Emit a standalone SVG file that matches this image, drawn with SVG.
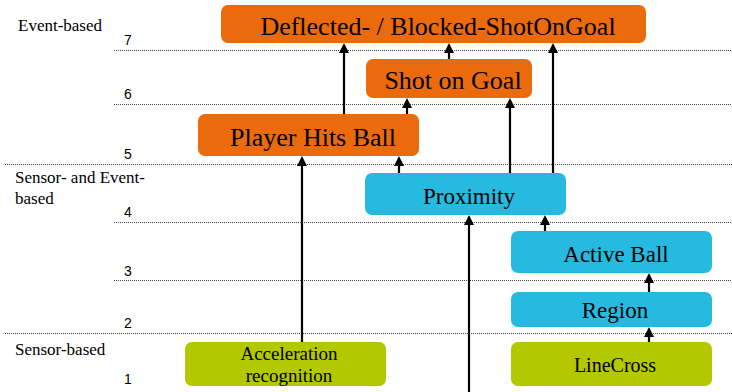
<svg xmlns="http://www.w3.org/2000/svg" width="732" height="392" viewBox="0 0 732 392">
<style>
.grid{stroke:#444;stroke-width:1;stroke-dasharray:1,1;fill:none}
.num{font-family:"Liberation Sans",Arial,sans-serif;font-size:14px;fill:#000}
.cat{font-family:"Liberation Serif","Times New Roman",serif;font-size:17px;fill:#000}
.lbl{font-family:"Liberation Serif","Times New Roman",serif;fill:#000;text-anchor:middle}
.ev{fill:#EB6B0C}
.se{fill:#27BAE1}
.s{fill:#B4C800}
.conn line{stroke:#000;stroke-width:2.2;marker-end:url(#ah)}
</style>
<defs>
<marker id="ah" viewBox="0 0 10 10" markerUnits="userSpaceOnUse" markerWidth="10" markerHeight="10" refX="6" refY="5" orient="auto">
<path d="M0,0 L10,5 L0,10 z" fill="#000"/>
</marker>
</defs>
<rect width="732" height="392" fill="#fff"/>
<g id="grid">
<line class="grid" x1="114" y1="50.5" x2="732" y2="50.5"/>
<line class="grid" x1="114" y1="104.5" x2="732" y2="104.5"/>
<line class="grid" x1="5" y1="164.5" x2="732" y2="164.5"/>
<line class="grid" x1="114" y1="222.5" x2="732" y2="222.5"/>
<line class="grid" x1="114" y1="280.5" x2="732" y2="280.5"/>
<line class="grid" x1="5" y1="333.5" x2="732" y2="333.5"/>
</g>
<g id="levels">
<text class="num" x="124" y="45">7</text>
<text class="num" x="124" y="99">6</text>
<text class="num" x="124" y="159">5</text>
<text class="num" x="124" y="217">4</text>
<text class="num" x="124" y="276">3</text>
<text class="num" x="124" y="328">2</text>
<text class="num" x="124" y="384">1</text>
</g>
<g id="categories">
<text class="cat" x="18" y="31">Event-based</text>
<text class="cat" x="15" y="183">Sensor- and Event-</text>
<text class="cat" x="15" y="204">based</text>
<text class="cat" x="15" y="355">Sensor-based</text>
</g>
<g class="conn" id="connectors">
<line x1="344" y1="114" x2="344" y2="47"/>
<line x1="449" y1="59" x2="449" y2="47"/>
<line x1="407" y1="114" x2="407" y2="102"/>
<line x1="510" y1="173" x2="510" y2="102"/>
<line x1="553" y1="173" x2="553" y2="47"/>
<line x1="302" y1="342" x2="302" y2="160"/>
<line x1="399" y1="173" x2="399" y2="160"/>
<line x1="469" y1="392" x2="469" y2="219"/>
<line x1="545" y1="231" x2="545" y2="219"/>
<line x1="649" y1="292" x2="649" y2="277"/>
<line x1="649" y1="342" x2="649" y2="331"/>
</g>
<g id="deflected">
<rect class="ev" x="221" y="5" width="425" height="38" rx="7"/>
<text class="lbl" x="438" y="35" font-size="26">Deflected- / Blocked-ShotOnGoal</text>
</g>
<g id="shot-on-goal">
<rect class="ev" x="366" y="59" width="166" height="39" rx="7"/>
<text class="lbl" x="453" y="89" font-size="26">Shot on Goal</text>
</g>
<g id="player-hits-ball">
<rect class="ev" x="198" y="114" width="221" height="42" rx="7"/>
<text class="lbl" x="313" y="146" font-size="26">Player Hits Ball</text>
</g>
<g id="proximity">
<rect class="se" x="365" y="173" width="201" height="42" rx="7"/>
<text class="lbl" x="469" y="204" font-size="23">Proximity</text>
</g>
<g id="active-ball">
<rect class="se" x="511" y="231" width="201" height="42" rx="7"/>
<text class="lbl" x="616" y="262" font-size="23">Active Ball</text>
</g>
<g id="region">
<rect class="se" x="511" y="292" width="201" height="35" rx="7"/>
<text class="lbl" x="615" y="318" font-size="23">Region</text>
</g>
<g id="linecross">
<rect class="s" x="511" y="342" width="201" height="44" rx="7"/>
<text class="lbl" x="615" y="372" font-size="20">LineCross</text>
</g>
<g id="acceleration-recognition">
<rect class="s" x="185" y="342" width="201" height="44" rx="7"/>
<text class="lbl" x="289" y="360" font-size="19">Acceleration</text>
<text class="lbl" x="289" y="382" font-size="19">recognition</text>
</g>
</svg>
